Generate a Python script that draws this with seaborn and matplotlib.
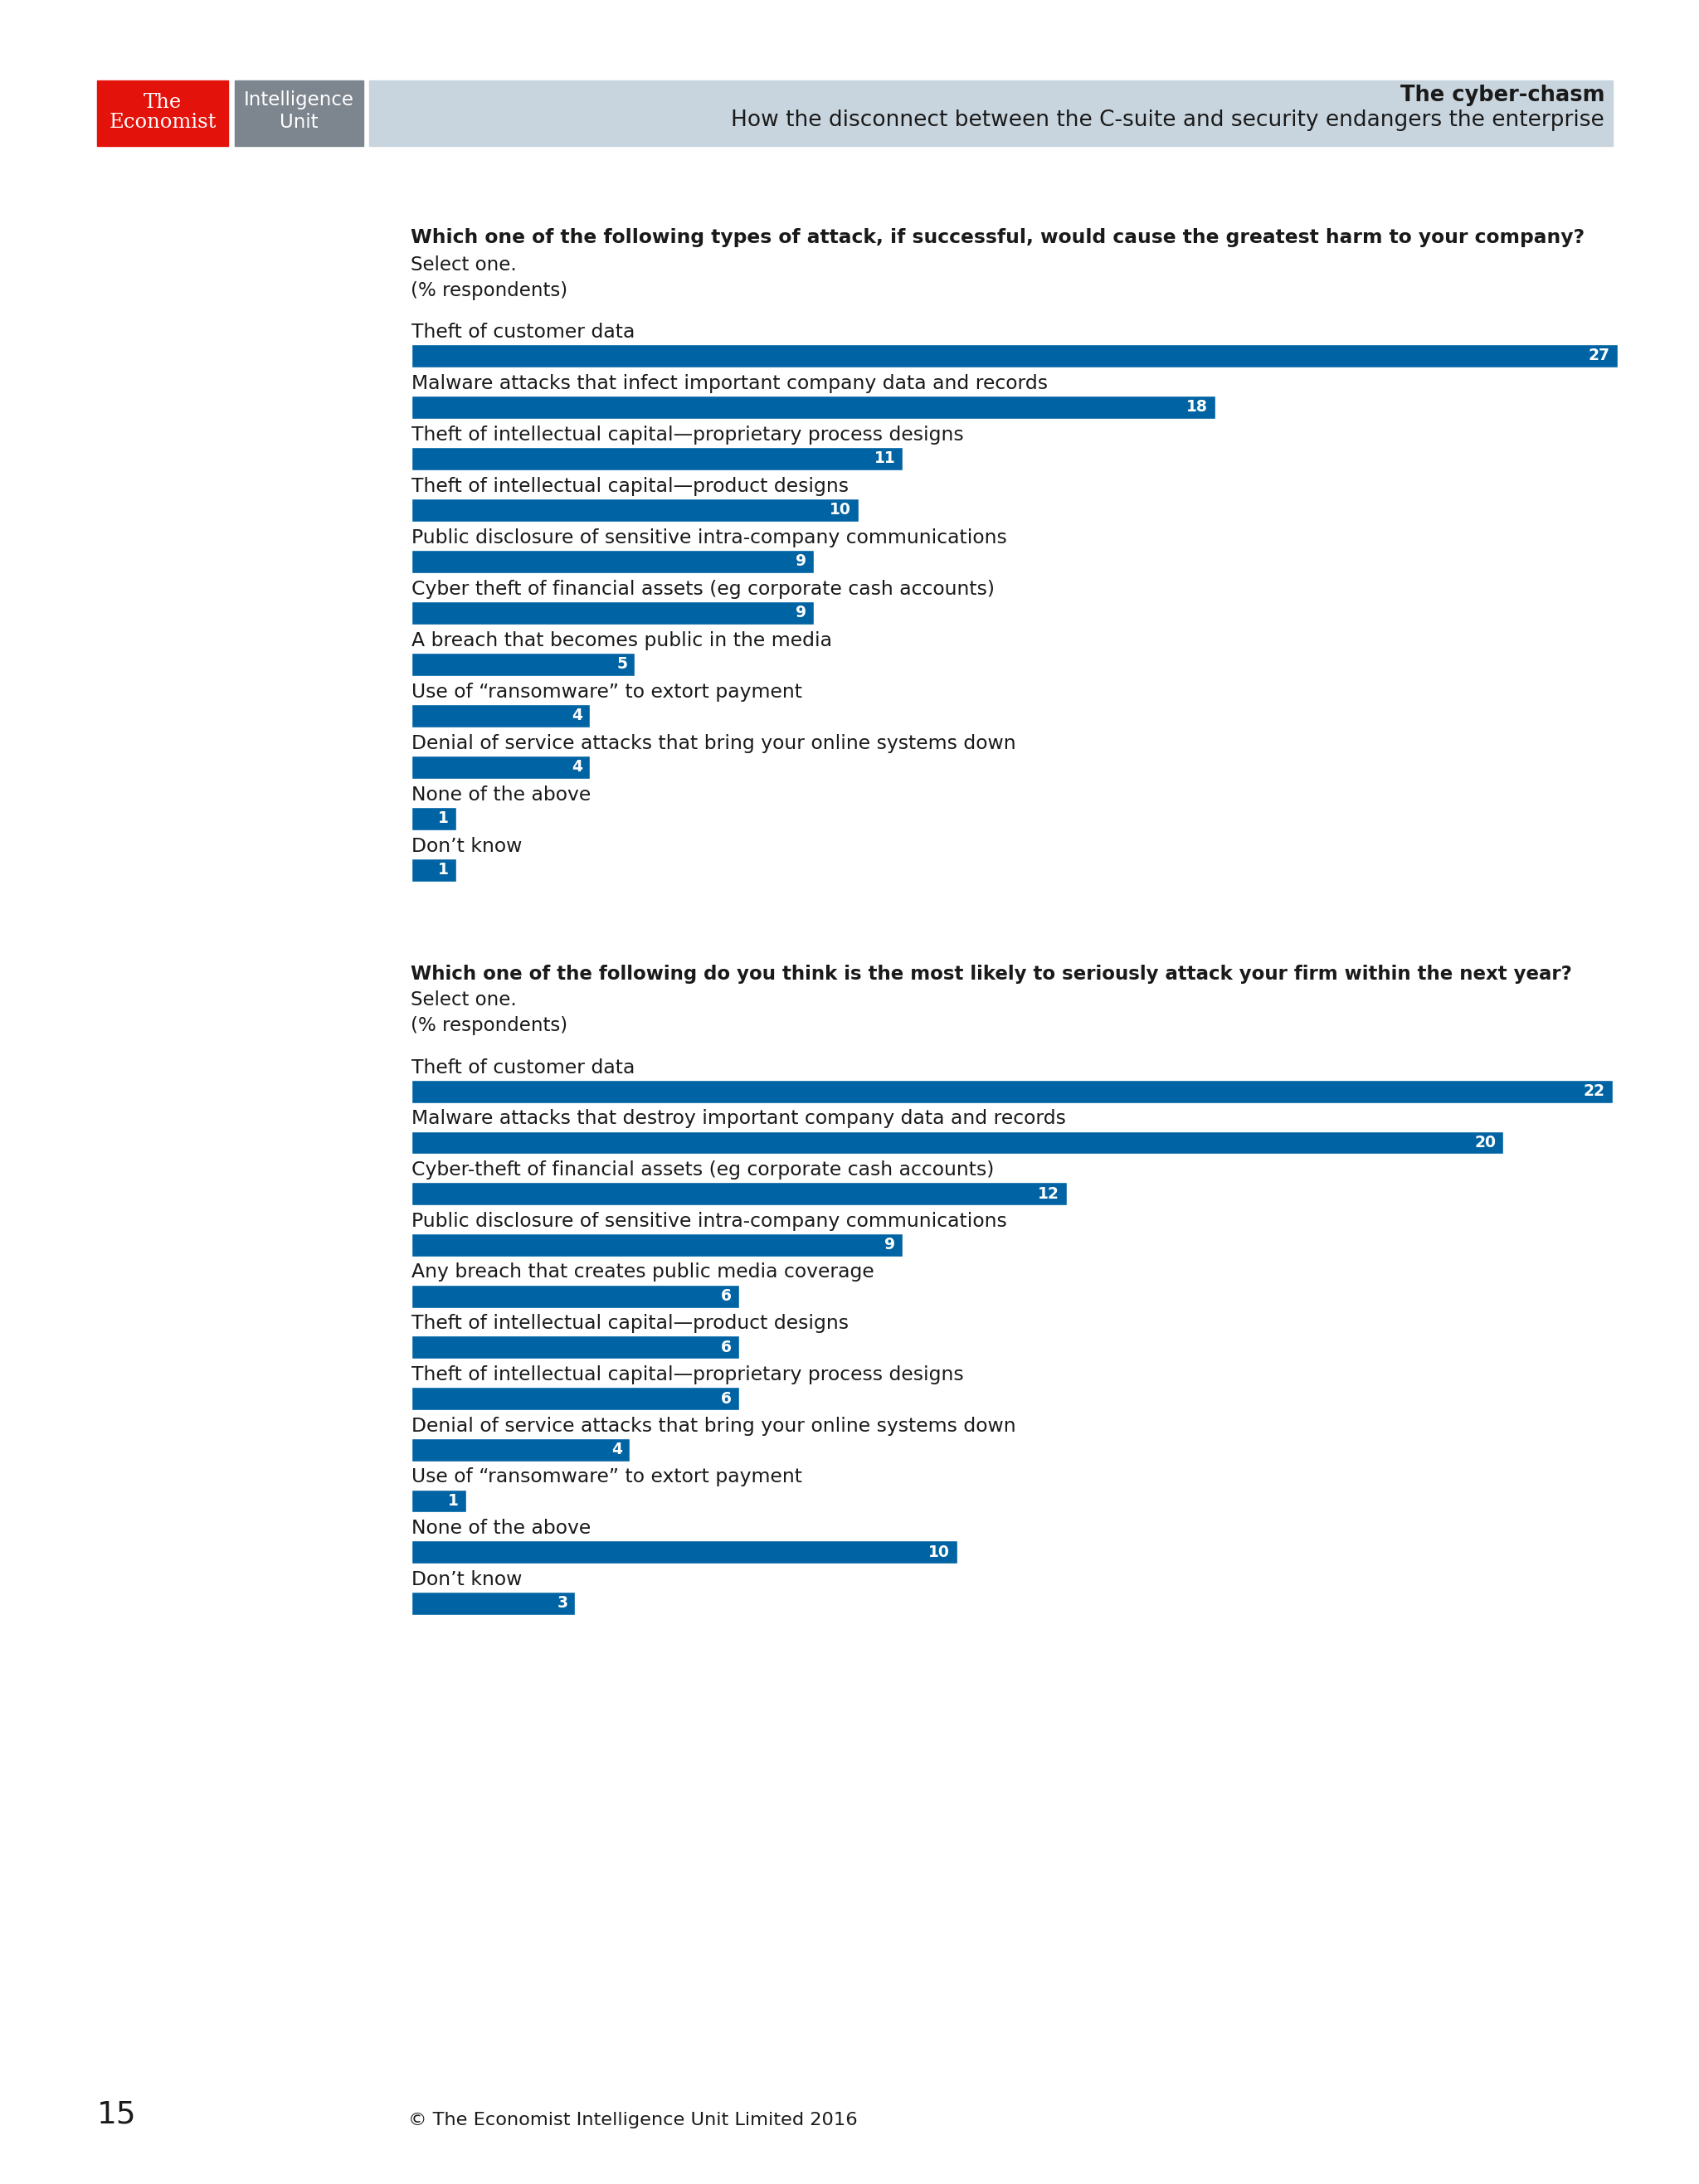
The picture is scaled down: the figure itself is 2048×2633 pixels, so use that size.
import matplotlib
matplotlib.use("Agg")
import matplotlib.pyplot as plt
from matplotlib.patches import Rectangle
import seaborn as sns

sns.set_theme(style="white")
plt.rcParams['font.family'] = ['DejaVu Sans']

# ---------------- data ----------------
q1_title = "Which one of the following types of attack, if successful, would cause the greatest harm to your company?"
q1_categories = [
    "Theft of customer data",
    "Malware attacks that infect important company data and records",
    "Theft of intellectual capital\u2014proprietary process designs",
    "Theft of intellectual capital\u2014product designs",
    "Public disclosure of sensitive intra-company communications",
    "Cyber theft of financial assets (eg corporate cash accounts)",
    "A breach that becomes public in the media",
    "Use of \u201cransomware\u201d to extort payment",
    "Denial of service attacks that bring your online systems down",
    "None of the above",
    "Don\u2019t know",
]
q1_values = [27, 18, 11, 10, 9, 9, 5, 4, 4, 1, 1]

q2_title = "Which one of the following do you think is the most likely to seriously attack your firm within the next year?"
q2_categories = [
    "Theft of customer data",
    "Malware attacks that destroy important company data and records",
    "Cyber-theft of financial assets (eg corporate cash accounts)",
    "Public disclosure of sensitive intra-company communications",
    "Any breach that creates public media coverage",
    "Theft of intellectual capital\u2014product designs",
    "Theft of intellectual capital\u2014proprietary process designs",
    "Denial of service attacks that bring your online systems down",
    "Use of \u201cransomware\u201d to extort payment",
    "None of the above",
    "Don\u2019t know",
]
q2_values = [22, 20, 12, 9, 6, 6, 6, 4, 1, 10, 3]

subtitle_lines = ["Select one.", "(% respondents)"]

# ---------------- figure ----------------
W, H = 2048, 2633
fig = plt.figure(figsize=(W / 100, H / 100), dpi=100)
fig.patch.set_facecolor("white")

BAR = "#0063A3"
TXT = "#1a1a1a"


def fx(x):
    return x / W


def fy(y):
    return 1 - y / H


def rect(x0, y0, x1, y1, color):
    fig.patches.append(Rectangle((fx(x0), fy(y1)), fx(x1) - fx(x0), fy(y0) - fy(y1),
                                 transform=fig.transFigure, color=color, zorder=0))


# header
rect(117, 97, 275, 176, "#E3120B")
rect(283, 97, 438, 176, "#7D858F")
rect(445, 97, 1944, 176, "#C8D5DE")
fig.text(fx(196), fy(123), "The", color="white", fontsize=17.5, ha="center", va="center",
         family="DejaVu Serif")
fig.text(fx(196), fy(148), "Economist", color="white", fontsize=17.5, ha="center", va="center",
         family="DejaVu Serif")
fig.text(fx(360), fy(121), "Intelligence", color="white", fontsize=16.5, ha="center", va="center")
fig.text(fx(360), fy(147), "Unit", color="white", fontsize=16.5, ha="center", va="center")
fig.text(fx(1934), fy(115), "The cyber-chasm", color=TXT, fontsize=18.5, fontweight="bold",
         ha="right", va="center")
fig.text(fx(1934), fy(145), "How the disconnect between the C-suite and security endangers the enterprise",
         color=TXT, fontsize=19, ha="right", va="center")


def draw_chart(title, title_size, cats, vals, title_y, top, spacing, left, right):
    n = len(cats)
    bottom = top + n * spacing
    fig.text(fx(left - 1), fy(title_y), title, fontsize=title_size, fontweight="bold", color=TXT,
             ha="left", va="center")
    fig.text(fx(left - 1), fy(title_y + 32), subtitle_lines[0], fontsize=16.5, color=TXT,
             ha="left", va="center")
    fig.text(fx(left - 1), fy(title_y + 63), subtitle_lines[1], fontsize=16.5, color=TXT,
             ha="left", va="center")
    ax = fig.add_axes([fx(left), fy(bottom), fx(right) - fx(left), (bottom - top) / H])
    sns.barplot(x=vals, y=cats, orient="h", color=BAR, saturation=1, width=0.45, ax=ax)
    ax.set_xlim(0, max(vals))
    ax.set_ylim(n - 0.5, -0.5)
    ax.axis("off")
    for i, (c, v) in enumerate(zip(cats, vals)):
        ax.text(0, i - 0.36, c, fontsize=16.9, color=TXT, ha="left", va="baseline")
        ax.annotate(str(v), xy=(v, i), xytext=(-6.5, 0), textcoords="offset points",
                    ha="right", va="center", color="white", fontsize=13.5, fontweight="bold")
    return ax


draw_chart(q1_title, 16.85, q1_categories, q1_values, 287, 398, 62, 496, 1950)
draw_chart(q2_title, 16.5, q2_categories, q2_values, 1174, 1285, 61.7, 496, 1944)

# footer
fig.text(fx(117), fy(2549), "15", fontsize=27, color=TXT, ha="left", va="center")
fig.text(fx(492), fy(2556), "\u00a9 The Economist Intelligence Unit Limited 2016", fontsize=16.2,
         color=TXT, ha="left", va="center")

fig.savefig("out.png", dpi=100, facecolor="white")
